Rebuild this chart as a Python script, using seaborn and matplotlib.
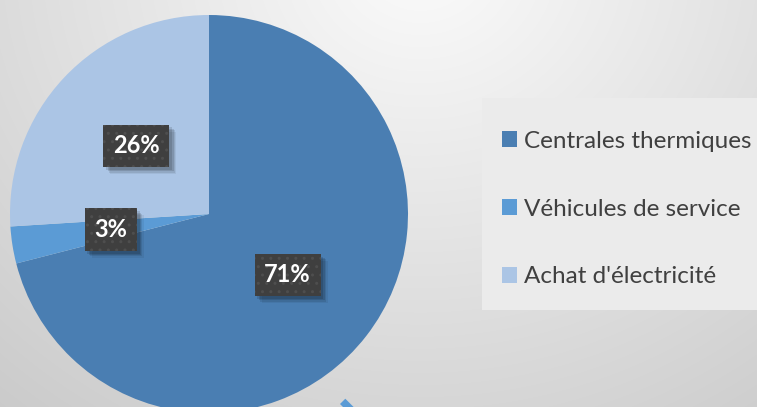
import numpy as np
import matplotlib
matplotlib.use("Agg")
import matplotlib.pyplot as plt
import matplotlib.patheffects as pe
from matplotlib.patches import Rectangle, Patch
import seaborn as sns

# ---- data ----
categories = ["Centrales thermiques", "Véhicules de service", "Achat d'électricité"]
values = [71, 3, 26]
colors = ["#4A7EB2", "#5B9BD5", "#ABC5E5"]

sns.set_theme(style="white")
plt.rcParams["font.family"] = ["Lato", "DejaVu Sans"]

W, H = 757, 407
fig = plt.figure(figsize=(W / 100, H / 100), dpi=100)

# background radial gradient
axbg = fig.add_axes([0, 0, 1, 1])
yy, xx = np.mgrid[0:H, 0:W]
d = np.sqrt(((xx - 420) / 1.0) ** 2 + ((yy + 40) / 0.9) ** 2)
d = d / d.max()
g = 0.985 - 0.19 * d
img = np.dstack([g, g, g])
axbg.imshow(img, extent=(0, W, H, 0), aspect="auto")
axbg.axis("off")

ax = fig.add_axes([0, 0, 1, 1])
ax.patch.set_alpha(0)

wedges, texts, autotexts = ax.pie(
    values, colors=colors, startangle=90, counterclock=False,
    center=(209, H - 214), radius=199,
    autopct=lambda p: f"{p:.0f}%", pctdistance=0.5,
    wedgeprops=dict(linewidth=0, antialiased=True),
)

shadow = [pe.SimplePatchShadow(offset=(o, -o), alpha=a, shadow_rgbFace="#000000", hatch=None)
          for o, a in [(5, 0.06), (4, 0.09), (3, 0.12), (2, 0.12)]]
for t in autotexts:
    t.set_color("white")
    t.set_fontweight("bold")
    t.set_fontsize(17)
    t.set_bbox(dict(boxstyle="square,pad=0.41", fc="#3F3F3F", ec="none"))
    bp = t.get_bbox_patch()
    bp.set_hatch("..")
    bp.set_edgecolor("#4E4E4E")
    bp.set_linewidth(0)
    bp.set_path_effects(shadow + [pe.Normal()])

# legend panel
ax.add_patch(Rectangle((482, H - 310), W - 482, 212, fc="#EBEBEB", ec="none", zorder=0.5))
handles = [Patch(facecolor=c, edgecolor="none") for c in colors]
leg = ax.legend(handles, categories, loc="center left", bbox_to_anchor=(492 / W, 1 - 209 / H),
                frameon=False, fontsize=17.5, labelspacing=1.93, handlelength=0.62,
                handleheight=0.62, handletextpad=0.3, labelcolor="#404040", borderaxespad=0)

# small decorative marker near bottom
ax.add_patch(Rectangle((340, 3), 13, 7.5, angle=-45, fc="#5B9BD5", ec="none"))

ax.set_xlim(0, W)
ax.set_ylim(0, H)
ax.axis("off")

fig.savefig("out.png", dpi=100)
